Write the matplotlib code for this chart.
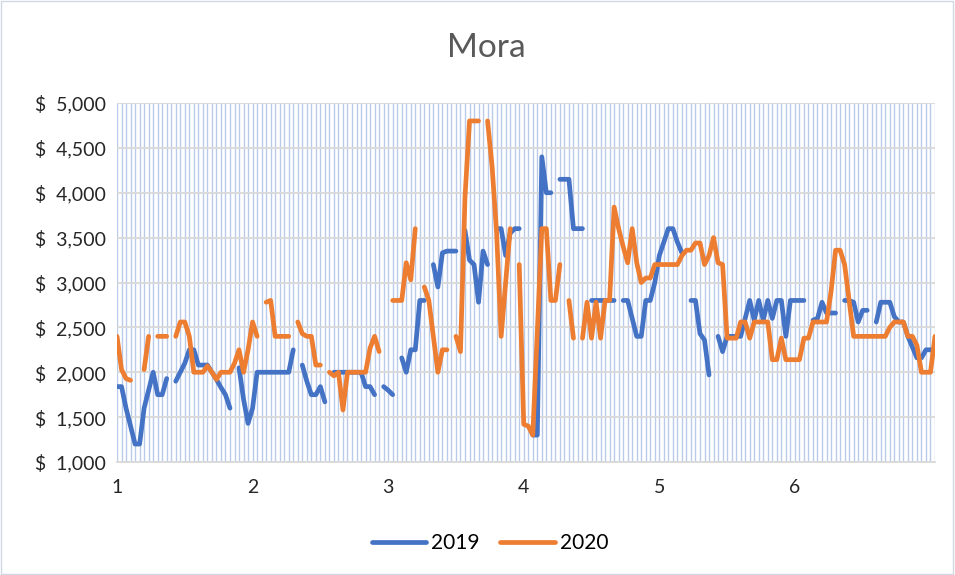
import numpy as np
import matplotlib.pyplot as plt
from matplotlib.patches import Rectangle

plt.rcParams['font.family'] = ['Lato', 'DejaVu Sans']

# daily values, None = no data
mora_2019 = [
    1840, 1840, 1600, 1400, 1200, 1200, 1600, 1800, 2000, 1750,
    1750, 1930, None, 1900, 2000, 2100, 2250, 2250, 2080, 2080,
    2080, 2000, 1920, 1830, 1750, 1600, None, 2050, 1700, 1430,
    1600, 2000, 2000, 2000, 2000, 2000, 2000, 2000, 2000, 2250,
    None, 2080, 1900, 1750, 1750, 1840, 1670, None, 2000, 2000,
    2000, 2000, 2000, 2000, 2000, 1840, 1840, 1750, None, 1840,
    1800, 1750, None, 2160, 2000, 2250, 2250, 2800, 2800, None,
    3200, 2950, 3330, 3350, 3350, 3350, None, 3580, 3250, 3200,
    2780, 3350, 3200, None, 3600, 3600, 3300, 3550, 3600, 3600,
    None, None, 1300, 1300, 4400, 4000, 4000, None, 4150, 4150,
    4150, 3600, 3600, 3600, None, 2800, 2800, 2800, 2800, 2800,
    2800, None, 2800, 2800, 2600, 2400, 2400, 2800, 2800, 3000,
    3300, 3450, 3600, 3600, 3450, 3330, None, 2800, 2800, 2430,
    2360, 1970, None, 2400, 2230, 2400, 2400, 2400, 2400, 2600,
    2800, 2580, 2800, 2580, 2800, 2600, 2800, 2800, 2400, 2800,
    2800, 2800, 2800, None, 2580, 2600, 2780, 2660, 2660, 2660,
    None, 2800, 2800, 2780, 2560, 2690, 2690, None, 2560, 2780,
    2780, 2780, 2620, 2560, 2560, 2400, 2280, 2160, 2160, 2250,
    2250, 2250]

mora_2020 = [
    2400, 2030, 1930, 1910, None, None, 2030, 2400, None, 2400,
    2400, 2400, None, 2400, 2560, 2560, 2400, 2000, 2000, 2000,
    2070, 2000, 1920, 2000, 2000, 2000, 2100, 2250, 2000, 2250,
    2560, 2400, None, 2780, 2800, 2400, 2400, 2400, 2400, None,
    2560, 2430, 2400, 2400, 2080, 2080, None, 2000, 1960, 2000,
    1580, 2000, 2000, 2000, 2000, 2000, 2270, 2400, 2230, None,
    None, 2800, 2800, 2800, 3220, 3030, 3600, None, 2950, 2800,
    2400, 2000, 2250, 2250, None, 2400, 2230, 3950, 4800, 4800,
    4800, None, 4800, 4290, 3550, 2400, 3000, 3600, None, 3200,
    1420, 1400, 1300, 2450, 3600, 3600, 2800, 2800, 3200, None,
    2800, 2380, None, 2380, 2780, 2380, 2780, 2380, 2800, 2800,
    3840, 3600, 3400, 3220, 3600, 3220, 3000, 3050, 3050, 3200,
    3200, 3200, 3200, 3200, 3200, 3300, 3360, 3360, 3440, 3440,
    3200, 3300, 3500, 3220, 3200, 2380, 2380, 2380, 2560, 2560,
    2380, 2560, 2560, 2560, 2560, 2140, 2140, 2380, 2140, 2140,
    2140, 2140, 2380, 2380, 2560, 2560, 2560, 2560, 2900, 3360,
    3360, 3200, 2800, 2400, 2400, 2400, 2400, 2400, 2400, 2400,
    2400, 2500, 2560, 2560, 2560, 2400, 2400, 2300, 2000, 2000,
    2000, 2400]

month_labels = ['1', '2', '3', '4', '5', '6']

y19 = np.array(mora_2019, dtype=float)
y20 = np.array(mora_2020, dtype=float)
x = np.arange(len(y19))

fig = plt.figure(figsize=(9.55, 5.75), dpi=100)
ax = fig.add_axes([117 / 955, 1 - 462 / 575, (935 - 117) / 955, (462 - 103) / 575])

ax.plot(x, y19, color='#4472C4', lw=3.4, solid_capstyle='round', solid_joinstyle='round', label='2019', zorder=3)
ax.plot(x, y20, color='#ED7D31', lw=3.4, solid_capstyle='round', solid_joinstyle='round', label='2020', zorder=4)

ax.set_xlim(0, len(x) - 1)
ax.set_ylim(1000, 5000)
ax.set_yticks(range(1000, 5001, 500))
ax.set_yticklabels([f'$  {v:,}' for v in range(1000, 5001, 500)])
ax.set_xticks(range(0, 151, 30))
ax.set_xticklabels(month_labels)
ax.set_xticks(x, minor=True)

ax.grid(axis='y', color='#D9D9D9', lw=1.3, zorder=1)
ax.grid(axis='x', which='both', color='#BACBEA', lw=1.0, zorder=0)
ax.tick_params(axis='both', which='both', length=0, labelsize=14, labelcolor='#262626')
ax.tick_params(axis='x', pad=12)
ax.tick_params(axis='y', pad=8)
for side in ['top', 'left', 'right']:
    ax.spines[side].set_visible(False)
ax.spines['bottom'].set_color('#D9D9D9')
ax.spines['bottom'].set_linewidth(1.3)

fig.text(486 / 955, 1 - 48 / 575, 'Mora', ha='center', va='center', fontsize=24, color='#595959')

fig.legend(loc='center', bbox_to_anchor=(490 / 955, 1 - 543 / 575), ncol=2, frameon=False,
           fontsize=15, handlelength=2.6, columnspacing=1.0, handletextpad=0.25)

fig.patches.append(Rectangle((0.001, 0.001), 0.997, 0.997, transform=fig.transFigure,
                             fill=False, edgecolor='#D0D7E5', lw=1))

fig.savefig('out.png', dpi=100)
